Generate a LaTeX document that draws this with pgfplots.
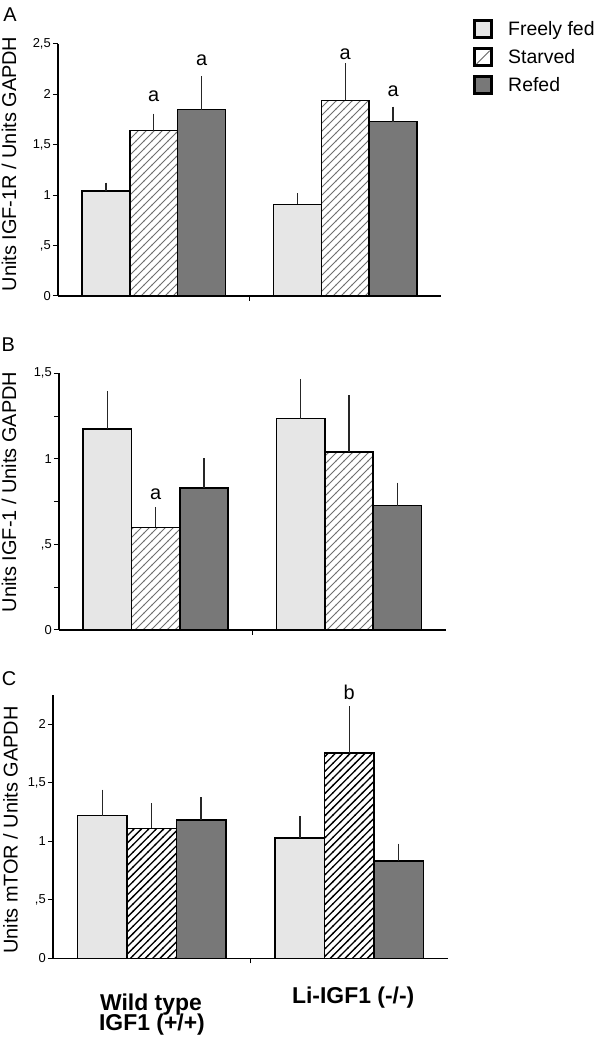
\documentclass[border=0pt]{standalone}
\usepackage{fontspec}
\setmainfont{Liberation Sans}
\usepackage{pgfplots}
\pgfplotsset{compat=1.18}
\usetikzlibrary{patterns}
\definecolor{ffed}{HTML}{E6E6E6}
\definecolor{refed}{HTML}{787878}
\definecolor{hatchgray}{HTML}{6E6E6E}
\pgfdeclarepatternformonly{hatchlinesA}{\pgfqpoint{-1bp}{-1bp}}{\pgfqpoint{9bp}{9bp}}{\pgfqpoint{8bp}{8bp}}{%
  \pgfsetlinewidth{0.9bp}%
  \pgfpathmoveto{\pgfqpoint{-0.5bp}{-0.5bp}}%
  \pgfpathlineto{\pgfqpoint{8.5bp}{8.5bp}}%
  \pgfusepath{stroke}}
\pgfdeclarepatternformonly{hatchlinesC}{\pgfqpoint{-1bp}{-1bp}}{\pgfqpoint{8.4bp}{8.4bp}}{\pgfqpoint{7.4bp}{7.4bp}}{%
  \pgfsetlinewidth{1.3bp}%
  \pgfpathmoveto{\pgfqpoint{-0.5bp}{-0.5bp}}%
  \pgfpathlineto{\pgfqpoint{7.9bp}{7.9bp}}%
  \pgfusepath{stroke}}
\tikzset{
  annot/.style={font=\fontsize{20}{20}\selectfont},
  letter/.style={font=\fontsize{20}{20}\selectfont},
}
\pgfplotsset{
  panel/.style={
    scale only axis, clip=false,
    xmin=0, xmax=2, ymin=0,
    axis x line=bottom, axis y line=left,
    axis line style={-, line width=1.2bp, black},
    tick align=outside, major tick length=5bp, minor tick length=5bp,
    every tick/.style={line width=1bp, black},
    xtick={1}, xticklabels={},
    yticklabel style={font=\fontsize{13}{13}\selectfont, inner sep=2bp},
    ylabel style={font=\fontsize{20}{22}\selectfont, anchor=center},
  },
  barbase/.style={ybar, bar width=0.25, bar shift=0pt, draw=black, line width=1.5bp,
    error bars/y dir=plus, error bars/y explicit,
    error bars/error bar style={line width=1.3bp, black!85},
    error bars/error mark options={line width=1.3bp, mark size=3bp, black!85}},
  hatchA/.style={pattern=hatchlinesA, pattern color=hatchgray},
  hatchC/.style={pattern=hatchlinesC, pattern color=black},
}
\begin{document}
\begin{tikzpicture}
\useasboundingbox (0bp,0bp) rectangle (600bp,1037bp);
% ---------------- Panel A
\begin{axis}[panel, at={(58bp,741bp)}, anchor=south west, width=383bp, height=252bp,
  ymax=2.5, ytick={0,0.5,1,1.5,2,2.5}, yticklabels={0,{,5},1,{1,5},2,{2,5}},
  ylabel={Units IGF-1R / Units GAPDH},
  ylabel style={at={(axis description cs:-0.128,0.524)}},
  legend cell align=left,
  legend style={at={(axis description cs:1.0836,1.099)}, anchor=north west, draw=none, fill=none,
    inner sep=0pt, font=\fontsize{19.5}{21}\selectfont, row sep=8bp,
    nodes={inner sep=0pt},
    /tikz/every odd column/.append style={column sep=15bp}}]
\addplot[barbase, fill=ffed,
  legend image code/.code={\draw[line width=3bp, fill=ffed] (0bp,-8.5bp) rectangle (17bp,8.5bp);}]
  coordinates {(0.25,1.04) +- (0,0.055) (1.25,0.91) +- (0,0.08)};
\addlegendentry{Freely fed}
\addplot[barbase, hatchA,
  legend image code/.code={\draw[line width=3bp, fill=white] (0bp,-8.5bp) rectangle (17bp,8.5bp);
    \draw[hatchgray, line width=1bp] (2bp,-6.5bp) -- (15bp,6.5bp);}]
  coordinates {(0.5,1.64) +- (0,0.14) (1.5,1.94) +- (0,0.34)};
\addlegendentry{Starved}
\addplot[barbase, fill=refed,
  legend image code/.code={\draw[line width=3bp, fill=refed] (0bp,-8.5bp) rectangle (17bp,8.5bp);}]
  coordinates {(0.75,1.85) +- (0,0.30) (1.75,1.73) +- (0,0.12)};
\addlegendentry{Refed}
\node[annot] at (axis cs:0.5,1.98) {a};
\node[annot] at (axis cs:0.75,2.34) {a};
\node[annot] at (axis cs:1.5,2.40) {a};
\node[annot] at (axis cs:1.75,2.03) {a};
\node[letter] at (axis description cs:-0.125,1.115) {A};
\end{axis}
% ---------------- Panel B
\begin{axis}[panel, at={(59bp,407bp)}, anchor=south west, width=386.7bp, height=256.7bp,
  ymax=1.5, ytick={0,0.25,0.5,0.75,1,1.25,1.5}, yticklabels={0,{},{,5},{},1,{},{1,5}},
  ylabel={Units IGF-1 / Units GAPDH},
  ylabel style={at={(axis description cs:-0.129,0.538)}}]
\addplot[barbase, fill=ffed]
  coordinates {(0.25,1.175) +- (0,0.205) (1.25,1.235) +- (0,0.215)};
\addplot[barbase, hatchA]
  coordinates {(0.5,0.60) +- (0,0.10) (1.5,1.04) +- (0,0.315)};
\addplot[barbase, fill=refed]
  coordinates {(0.75,0.83) +- (0,0.155) (1.75,0.727) +- (0,0.116)};
\node[annot] at (axis cs:0.5,0.795) {a};
\node[letter] at (axis description cs:-0.131,1.110) {B};
\end{axis}
% ---------------- Panel C
\begin{axis}[panel, at={(53bp,78.7bp)}, anchor=south west, width=395bp, height=263.3bp,
  ymax=2.25, ytick={0,0.5,1,1.5,2}, yticklabels={0,{,5},1,{1,5},2},
  ylabel={Units mTOR / Units GAPDH},
  ylabel style={at={(axis description cs:-0.1076,0.487)}}]
\addplot[barbase, fill=ffed]
  coordinates {(0.25,1.22) +- (0,0.195) (1.25,1.03) +- (0,0.16)};
\addplot[barbase, hatchC]
  coordinates {(0.5,1.11) +- (0,0.19) (1.5,1.755) +- (0,0.375)};
\addplot[barbase, fill=refed]
  coordinates {(0.75,1.18) +- (0,0.17) (1.75,0.83) +- (0,0.125)};
\node[annot] at (axis cs:1.5,2.27) {b};
\node[letter] at (axis description cs:-0.111,1.061) {C};
\node[font=\fontsize{23}{23}\selectfont\bfseries, anchor=base] at (axis cs:0.496,-0.442) {Wild type};
\node[font=\fontsize{23}{23}\selectfont\bfseries, anchor=base] at (axis cs:0.501,-0.621) {IGF1 (+/+)};
\node[font=\fontsize{23}{23}\selectfont\bfseries, anchor=base] at (axis cs:1.52,-0.382) {Li-IGF1 (-/-)};
\end{axis}
\end{tikzpicture}
\end{document}
